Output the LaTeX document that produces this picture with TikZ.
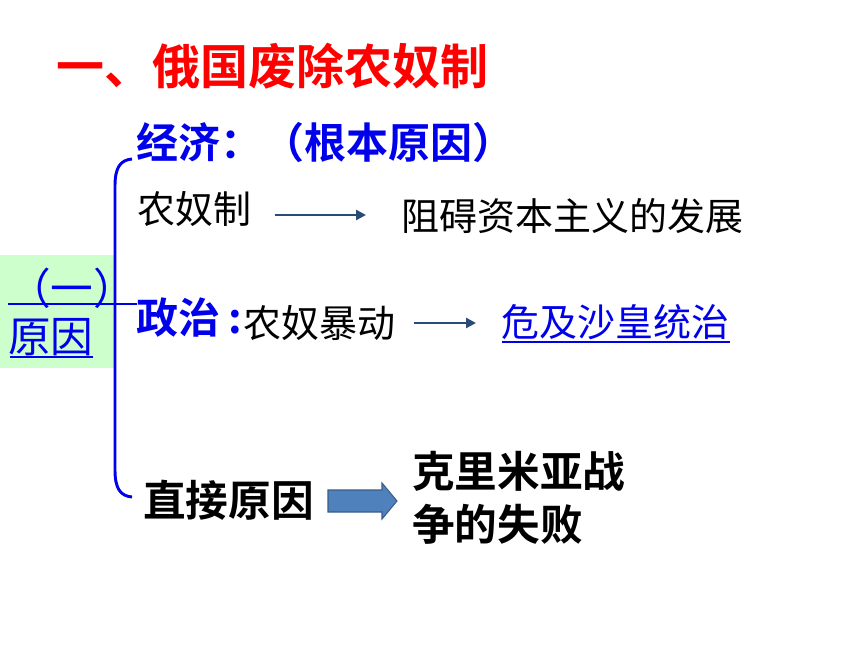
\documentclass[tikz,border=0pt]{standalone}
\usepackage{fontspec}
\setmainfont{Noto Sans CJK SC}[BoldFont={Noto Sans CJK SC Bold}]
\usetikzlibrary{arrows.meta}
\definecolor{tred}{RGB}{255,0,0}
\definecolor{tblue}{RGB}{0,0,235}
\definecolor{boxgreen}{RGB}{204,255,204}
\definecolor{arrowline}{RGB}{40,75,120}
\definecolor{blockfill}{RGB}{79,129,189}
\definecolor{blockdraw}{RGB}{56,93,138}
\tikzset{
  txt/.style={inner sep=0pt, anchor=west},
  title/.style={txt, text=tred, font=\fontsize{36pt}{40pt}\selectfont\bfseries},
  head/.style={txt, text=tblue, font=\fontsize{31.5pt}{36pt}\selectfont\bfseries},
  body/.style={txt, text=black, font=\fontsize{28.5pt}{34pt}\selectfont},
  bigbody/.style={txt, text=black, font=\fontsize{32pt}{40pt}\selectfont\bfseries},
  side/.style={txt, text=tblue, font=\fontsize{32pt}{36pt}\selectfont},
  link/.style={txt, text=tblue, font=\fontsize{28.5pt}{34pt}\selectfont},
  brace/.style={draw=tblue, line width=2.2pt},
  thinarrow/.style={draw=arrowline, line width=2pt, -{Triangle[length=7.5pt,width=7.5pt]}},
  uline/.style={draw=tblue, line width=1.3pt},
  blockarrow/.style={fill=blockfill, draw=blockdraw, line width=0.8pt},
}
\begin{document}
\begin{tikzpicture}[x=0.75pt,y=-0.75pt]
\useasboundingbox (0,0) rectangle (860,645);
% green box
\fill[boxgreen] (0,255) rectangle (115,368);
% title
\node[title] (title) at (56,66) {一、俄国废除农奴制};
% side label
\node[side] (one) at (8,288) {（一）};
\node[side] (reason) at (8,337) {原因};
\draw[uline] (10,357) -- (93,357);
% brace
\draw[brace] (132,159) .. controls (120,160) and (115,168) .. (115,186) -- (115,470) .. controls (115,488) and (120,496) .. (132,497);
\draw[draw=tblue, line width=1.5pt] (8,304) -- (137,304);
% economy
\node[head] (econ) at (136,143) {经济：（根本原因）};
\node[body] (serf) at (137,209) {农奴制};
\node[body] (hinder) at (401,216) {阻碍资本主义的发展};
\coordinate (a1s) at (275,215);
\coordinate (a1e) at (366,215);
\draw[thinarrow] (a1s) -- (a1e);
% politics
\node[head] (pol) at (136,318) {政治\hspace{6pt}:};
\node[body] (riot) at (243,323) {农奴暴动};
\node[link] (threat) at (501,322) {危及沙皇统治};
\draw[uline, line width=1.1pt] (502,342) -- (730,342);
\coordinate (a2s) at (414,323);
\coordinate (a2e) at (476,323);
\draw[thinarrow] (a2s) -- (a2e);
% direct cause
\node[bigbody] (direct) at (143,500) {直接原因};
\node[bigbody, align=left] (crimea) at (412,498) {克里米亚战\\争的失败};
\draw[blockarrow] (328,490) -- (382,490) -- (382,483) -- (397,501) -- (382,519) -- (382,512) -- (328,512) -- cycle;
\end{tikzpicture}
\end{document}
